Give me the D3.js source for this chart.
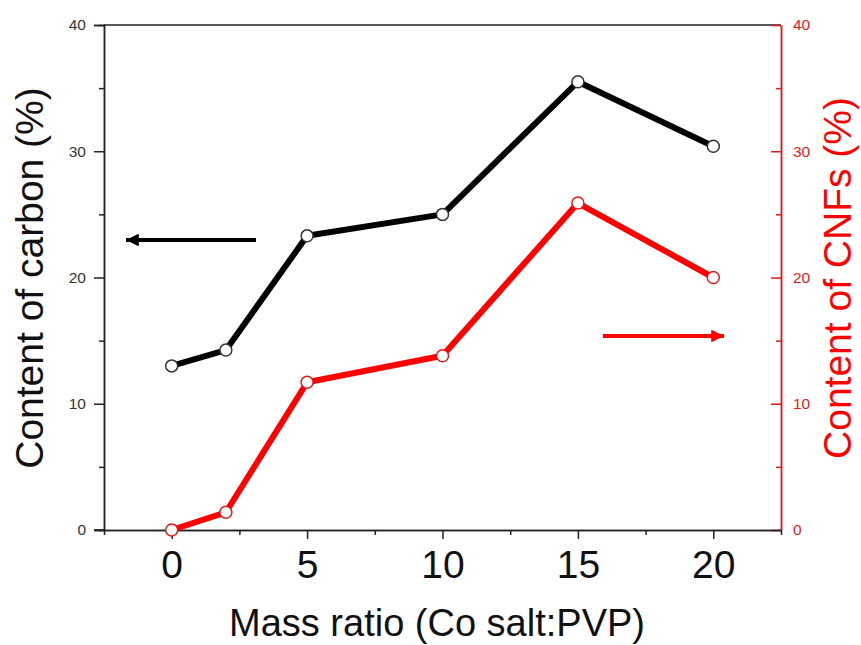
<!DOCTYPE html>
<html><head><meta charset="utf-8">
<script src="https://cdn.jsdelivr.net/npm/d3@7"></script>
<style>body{margin:0;background:#fff}svg{display:block}</style>
</head><body><svg id="c" width="861" height="645"></svg>
<script>
const massRatio = [0, 2, 5, 10, 15, 20];
const carbonContent = [13.0, 14.25, 23.3, 25.0, 35.5, 30.4];
const cnfContent = [0.0, 1.4, 11.7, 13.8, 25.9, 20.0];
const xTicks = [0, 5, 10, 15, 20];
const yTicks = [0, 10, 20, 30, 40];

const svg = d3.select("#c");
const font = "'Liberation Sans', Arial, sans-serif";
const L = 104, R = 781, T = 25, B = 530;
const x = d3.scaleLinear().domain([-2.5, 22.5]).range([L, R]);
const y = d3.scaleLinear().domain([0, 40]).range([B, T]);
const y2 = d3.scaleLinear().domain([0, 40]).range([B, T]);

// frame top line
svg.append("line").attr("x1", L).attr("x2", R).attr("y1", T).attr("y2", T).attr("stroke", "#222").attr("stroke-width", 1.5);

// left axis
const gl = svg.append("g").attr("transform", `translate(${L},0)`);
gl.call(d3.axisLeft(y).tickValues(yTicks).tickSize(10).tickPadding(8).tickFormat(d3.format("d")));
gl.append("g").call(d3.axisLeft(y).tickValues([5, 15, 25, 35]).tickSize(5).tickFormat(""));
gl.selectAll("path.domain").attr("stroke", "#222").attr("stroke-width", 1.5);
gl.selectAll(".tick line").attr("stroke", "#222").attr("stroke-width", 1.5);
gl.selectAll("text").attr("font-family", font).attr("font-size", 15.5).attr("fill", "#333");

// right axis
const gr = svg.append("g").attr("transform", `translate(${R},0)`);
gr.call(d3.axisRight(y2).tickValues(yTicks).tickSizeInner(-10).tickSizeOuter(0).tickPadding(12).tickFormat(d3.format("d")));
gr.append("g").call(d3.axisRight(y2).tickValues([5, 15, 25, 35]).tickSizeInner(-5).tickSizeOuter(0).tickFormat(""));
gr.selectAll("path.domain").attr("stroke", "#e31a1c").attr("stroke-width", 1.5);
gr.selectAll(".tick line").attr("stroke", "#e31a1c").attr("stroke-width", 1.5);
gr.selectAll("text").attr("font-family", font).attr("font-size", 15.5).attr("fill", "#e31a1c");

// bottom axis
const gb = svg.append("g").attr("transform", `translate(0,${B})`);
gb.call(d3.axisBottom(x).tickValues(xTicks).tickSize(9).tickSizeOuter(0).tickPadding(11).tickFormat(d3.format("d")));
gb.append("g").call(d3.axisBottom(x).tickValues([-2.5, 2.5, 7.5, 12.5, 17.5, 22.5]).tickSize(5).tickSizeOuter(0).tickFormat(""));
gb.selectAll("path.domain").attr("stroke", "#222").attr("stroke-width", 1.5);
gb.selectAll(".tick line").attr("stroke", "#222").attr("stroke-width", 1.5);
gb.selectAll("text").attr("font-family", font).attr("font-size", 39).attr("fill", "#111");
svg.append("line").attr("x1", L - 10).attr("x2", L).attr("y1", B).attr("y2", B).attr("stroke", "#222").attr("stroke-width", 1.5);

// series
const line = (ys, sc) => d3.line().x((d, i) => x(massRatio[i])).y(d => sc(d))(ys);
svg.append("path").attr("d", line(carbonContent, y)).attr("fill", "none").attr("stroke", "#000").attr("stroke-width", 6).attr("stroke-linejoin", "round");
svg.append("path").attr("d", line(cnfContent, y2)).attr("fill", "none").attr("stroke", "#ff0000").attr("stroke-width", 6).attr("stroke-linejoin", "round");
svg.selectAll("circle.k").data(carbonContent).enter().append("circle")
  .attr("cx", (d, i) => x(massRatio[i])).attr("cy", d => y(d)).attr("r", 6)
  .attr("fill", "#fff").attr("stroke", "#333").attr("stroke-width", 1.5);
svg.selectAll("circle.r").data(cnfContent).enter().append("circle")
  .attr("cx", (d, i) => x(massRatio[i])).attr("cy", d => y2(d)).attr("r", 6)
  .attr("fill", "#fff").attr("stroke", "#e31a1c").attr("stroke-width", 1.5);

// arrows
const defs = svg.append("defs");
function marker(id, color) {
  defs.append("marker").attr("id", id).attr("viewBox", "0 0 10 10").attr("refX", 10).attr("refY", 5)
    .attr("markerWidth", 4).attr("markerHeight", 3.2).attr("markerUnits", "strokeWidth").attr("orient", "auto")
    .append("path").attr("d", "M0,0 L10,5 L0,10 Z").attr("fill", color);
}
marker("ak", "#000"); marker("ar", "#ff0000");
svg.append("line").attr("x1", 256).attr("y1", 240).attr("x2", 126).attr("y2", 240)
  .attr("stroke", "#000").attr("stroke-width", 4).attr("marker-end", "url(#ak)");
svg.append("line").attr("x1", 603).attr("y1", 336).attr("x2", 724).attr("y2", 336)
  .attr("stroke", "#ff0000").attr("stroke-width", 4).attr("marker-end", "url(#ar)");

// titles
svg.append("text").attr("x", 437).attr("y", 636).attr("text-anchor", "middle")
  .attr("font-family", font).attr("font-size", 38).attr("fill", "#111").text("Mass ratio (Co salt:PVP)");
svg.append("text").attr("transform", "translate(43,278) rotate(-90)").attr("text-anchor", "middle")
  .attr("font-family", font).attr("font-size", 39).attr("fill", "#111").text("Content of carbon (%)");
svg.append("text").attr("transform", "translate(851,278) rotate(-90)").attr("text-anchor", "middle")
  .attr("font-family", font).attr("font-size", 39).attr("fill", "#ff0000").text("Content of CNFs (%)");
</script></body></html>
